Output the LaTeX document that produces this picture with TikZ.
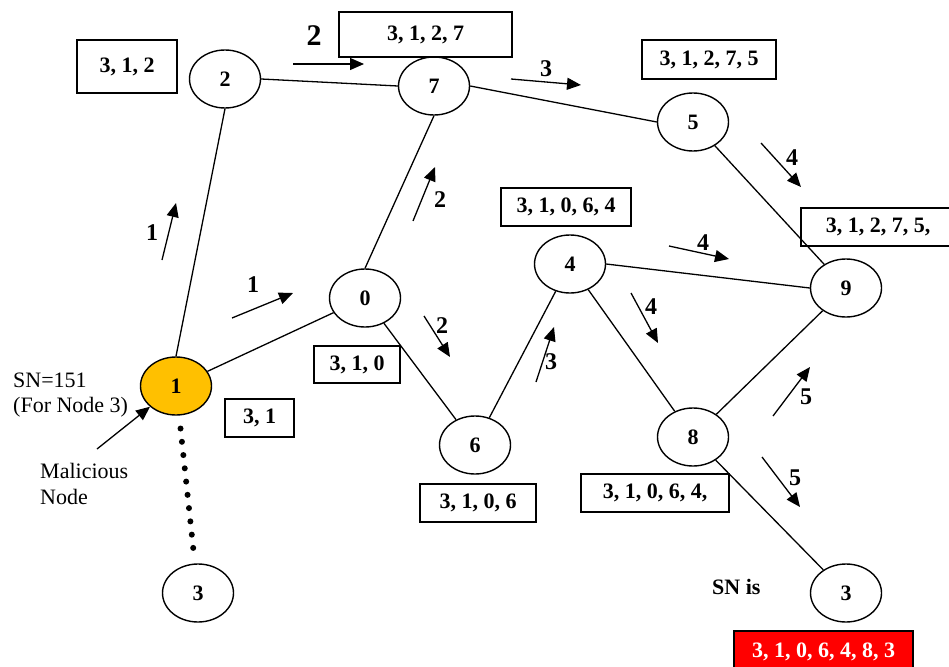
\documentclass[tikz,border=0pt]{standalone}
\usepackage{fontspec}
\setmainfont{Liberation Serif}
\usetikzlibrary{shapes.geometric,arrows.meta}
\definecolor{gold}{RGB}{255,192,0}
\definecolor{redbox}{RGB}{255,0,0}
\begin{document}
\begin{tikzpicture}[x=1pt,y=-1pt,
 nd/.style={ellipse,draw,line width=1.4pt,minimum width=71pt,minimum height=58pt,inner sep=0pt,font=\fontsize{22}{24}\selectfont\bfseries},
 bx/.style={draw,line width=1.4pt,inner sep=0pt,font=\fontsize{22}{24}\selectfont\bfseries},
 link/.style={line width=1.3pt},
 mv/.style={line width=1.3pt,-{Triangle[length=14pt,width=12pt]}},
 lbl/.style={font=\fontsize{24}{26}\selectfont\bfseries,inner sep=0pt},
 plain/.style={font=\fontsize{22}{26}\selectfont,inner sep=0pt,anchor=base west}
]
\clip (0,0) rectangle (949,666);
\fill[white] (0,0) rectangle (949,666);

% nodes
\node[nd] (n2) at (225,79) {2};
\node[nd] (n7) at (434,86) {7};
\node[nd] (n5) at (693,122) {5};
\node[nd] (n0) at (365,298) {0};
\node[nd] (n4) at (570,264) {4};
\node[nd] (n9) at (846,288) {9};
\node[nd,fill=gold] (n1) at (176,386) {1};
\node[nd] (n6) at (475,445) {6};
\node[nd] (n8) at (693,437) {8};
\node[nd] (n3a) at (198,593) {3};
\node[nd] (n3b) at (846,593) {3};

% edges
\draw[link] (n1.north) -- (n2.south);
\draw[link] (n2.east) -- (n7.west);
\draw[link] (n7.east) -- (n5.west);
\draw[link] (n7.south) -- (n0.north);
\draw[link] (n1) -- (n0);
\draw[link] (n0) -- (n6);
\draw[link] (n6) -- (n4);
\draw[link] (n4.east) -- (n9.west);
\draw[link] (n4) -- (n8);
\draw[link] (n5) -- (n9);
\draw[link] (n8) -- (n9);
\draw[link] (n8) -- (n3b);
\draw[line width=6pt,line cap=round,dash pattern=on 0pt off 13.34pt,shorten <=13pt,shorten >=3pt] (n1) -- (n3a);

% route boxes
\node[bx,minimum width=100pt,minimum height=53pt] (b1) at (127,66.5) {3, 1, 2};
\node[bx,minimum width=173pt,minimum height=45pt] (b2) at (425.5,34.5) {3, 1, 2, 7};
\node[bx,minimum width=134pt,minimum height=39pt] (b3) at (709,59.5) {3, 1, 2, 7, 5};
\node[bx,minimum width=130pt,minimum height=38pt] (b4) at (566,207) {3, 1, 0, 6, 4};
\node[bx,minimum width=154pt,minimum height=38pt] (b5) at (878,227) {3, 1, 2, 7, 5,};
\node[bx,minimum width=86pt,minimum height=37pt] (b6) at (357,364.5) {3, 1, 0};
\node[bx,minimum width=69pt,minimum height=38pt] (b7) at (259.5,418) {3, 1};
\node[bx,minimum width=116pt,minimum height=38pt] (b8) at (478,503) {3, 1, 0, 6};
\node[bx,minimum width=148pt,minimum height=38pt] (b9) at (655,493) {3, 1, 0, 6, 4,};
\node[bx,fill=redbox,text=white,minimum width=179pt,minimum height=42pt] (b10) at (823.5,652) {3, 1, 0, 6, 4, 8, 3};

% movement arrows
\coordinate (a1s) at (162,260); \coordinate (a1e) at (176,203);
\draw[mv] (a1s) -- (a1e);
\node[lbl] (l1) at (152,233) {1};
\coordinate (a2s) at (232,318); \coordinate (a2e) at (293,293);
\draw[mv] (a2s) -- (a2e);
\node[lbl] (l2) at (253,285) {1};
\coordinate (a3s) at (293,64); \coordinate (a3e) at (364,64);
\draw[mv] (a3s) -- (a3e);
\node[lbl,font=\fontsize{30}{32}\selectfont\bfseries] (l3) at (314,36) {2};
\coordinate (a4s) at (413,221); \coordinate (a4e) at (435,167);
\draw[mv] (a4s) -- (a4e);
\node[lbl] (l4) at (440,200) {2};
\coordinate (a5s) at (424,316); \coordinate (a5e) at (450,357);
\draw[mv] (a5s) -- (a5e);
\node[lbl] (l5) at (442,326) {2};
\coordinate (a6s) at (511,79); \coordinate (a6e) at (581,85);
\draw[mv] (a6s) -- (a6e);
\node[lbl] (l6) at (546,69) {3};
\coordinate (a7s) at (536,382); \coordinate (a7e) at (554,327);
\draw[mv] (a7s) -- (a7e);
\node[lbl] (l7) at (551,362) {3};
\coordinate (a8s) at (761,143); \coordinate (a8e) at (801,187);
\draw[mv] (a8s) -- (a8e);
\node[lbl] (l8) at (792,158) {4};
\coordinate (a9s) at (669,246); \coordinate (a9e) at (729,259);
\draw[mv] (a9s) -- (a9e);
\node[lbl] (l9) at (703,243) {4};
\coordinate (a10s) at (631,293); \coordinate (a10e) at (658,343);
\draw[mv] (a10s) -- (a10e);
\node[lbl] (l10) at (651,307) {4};
\coordinate (a11s) at (773,416); \coordinate (a11e) at (810,367);
\draw[mv] (a11s) -- (a11e);
\node[lbl] (l11) at (806,397) {5};
\coordinate (a12s) at (762,457); \coordinate (a12e) at (800,507);
\draw[mv] (a12s) -- (a12e);
\node[lbl] (l12) at (795,478) {5};

% annotations
\node[plain] (sn) at (13,387) {SN=151};
\node[plain] (fn) at (13,412) {(For Node 3)};
\node[plain] (mal) at (40,478) {Malicious};
\node[plain] (nod) at (40,504) {Node};
\coordinate (ms) at (97,449);
\draw[mv] (ms) -- (n1);
\node[plain,font=\fontsize{22}{26}\selectfont\bfseries] (snis) at (712,594) {SN is};
\end{tikzpicture}
\end{document}
